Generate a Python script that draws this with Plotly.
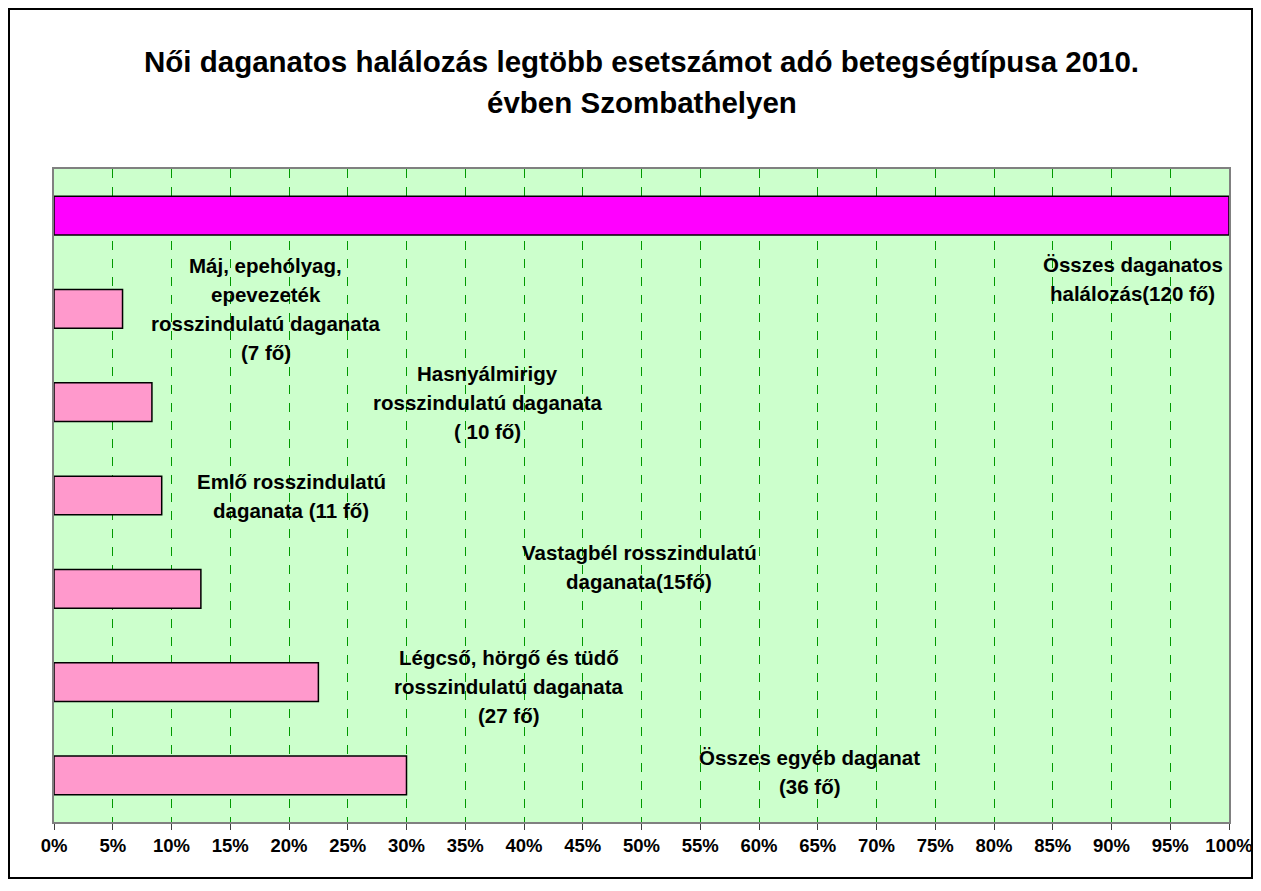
import plotly.graph_objects as go

# Data
categories = [
    "Összes egyéb daganat",
    "Légcső, hörgő és tüdő rosszindulatú daganata",
    "Vastagbél rosszindulatú daganata",
    "Emlő rosszindulatú daganata",
    "Hasnyálmirigy rosszindulatú daganata",
    "Máj, epehólyag, epevezeték rosszindulatú daganata",
    "Összes daganatos halálozás",
]
cases = [36, 27, 15, 11, 10, 7, 120]
total = 120
percent = [c / total * 100 for c in cases]
bar_colors = ["#FF99CC"] * 6 + ["#FF00FF"]

label_lines = [
    ["Összes egyéb daganat", "(36 fő)"],
    ["Légcső, hörgő és tüdő", "rosszindulatú daganata", "(27 fő)"],
    ["Vastagbél rosszindulatú", "daganata(15fő)"],
    ["Emlő rosszindulatú", "daganata (11 fő)"],
    ["Hasnyálmirigy", "rosszindulatú daganata", "( 10 fő)"],
    ["Máj, epehólyag,", "epevezeték", "rosszindulatú daganata", "(7 fő)"],
    ["Összes daganatos", "halálozás(120 fő)"],
]
# label centre positions (x in %, y in category index)
label_x = [64.3, 38.7, 49.8, 20.2, 36.9, 18.0, 91.8]
label_y = [0.04, 0.95, 2.23, 3.0, 4.0, 5.0, 5.32]

title_lines = [
    "Női daganatos halálozás legtöbb esetszámot adó betegségtípusa 2010.",
    "évben Szombathelyen",
]

tick_vals = list(range(0, 101, 5))
tick_text = [f"<b>{v}%</b>" for v in tick_vals]

FONT = "Liberation Sans, Arial, sans-serif"

# Page geometry (figure sits at an 8px body offset)
W, H = 1257, 871
L, R, T, B = 46, 36, 161, 57
PW, PH = W - L - R, H - T - B
RIGHT_BORDER = 1245  # figure-x of outer frame right edge

fig = go.Figure()
fig.add_trace(go.Bar(
    x=percent,
    y=list(range(len(categories))),
    orientation="h",
    marker=dict(color=bar_colors, line=dict(color="black", width=1.5)),
    hoverinfo="skip",
    width=0.415,
))

line_gap = 29
annotations = []
for lines, lx, ly in zip(label_lines, label_x, label_y):
    n = len(lines)
    for i, t in enumerate(lines):
        annotations.append(dict(
            x=lx, y=ly, xref="x", yref="y", text=f"<b>{t}</b>", showarrow=False,
            xanchor="center", yanchor="middle",
            yshift=((n - 1) / 2 - i) * line_gap,
            font=dict(family=FONT, size=20.5, color="black"),
        ))

# title lines (page y of middles: 62 and 103)
for t, py in zip(title_lines, [62, 103]):
    annotations.append(dict(
        x=0.5, y=(T + PH + 8 - py) / PH, xref="paper", yref="paper",
        text=f"<b>{t}</b>", showarrow=False, xanchor="center", yanchor="middle",
        font=dict(family=FONT, size=29.5, color="black"),
    ))

fig.update_layout(
    width=W, height=H, autosize=False,
    margin=dict(l=L, r=R, t=T, b=B, pad=0),
    paper_bgcolor="white",
    plot_bgcolor="#CCFFCC",
    showlegend=False,
    annotations=annotations,
    shapes=[
        dict(type="rect", xref="paper", yref="paper",
             x0=(-L + 1) / PW, x1=(RIGHT_BORDER - L - 1) / PW,
             y0=(-B + 1) / PH, y1=(PH + T - 1) / PH,
             line=dict(color="black", width=2), fillcolor="rgba(0,0,0,0)", layer="below"),
    ],
    xaxis=dict(
        range=[0, 100], tickvals=tick_vals, ticktext=tick_text,
        showgrid=True, gridcolor="#009900", griddash="dash", gridwidth=1,
        showline=True, linecolor="#808080", linewidth=1.5, mirror=True,
        ticks="outside", ticklen=6, tickcolor="#404040",
        tickfont=dict(family=FONT, size=18.5, color="black"),
        zeroline=False, fixedrange=True,
    ),
    yaxis=dict(
        range=[-0.5, 6.5], showticklabels=False, showgrid=False,
        showline=True, linecolor="#808080", linewidth=1.5, mirror=True,
        ticks="", zeroline=False, fixedrange=True,
    ),
)

fig.write_html("out.html")
